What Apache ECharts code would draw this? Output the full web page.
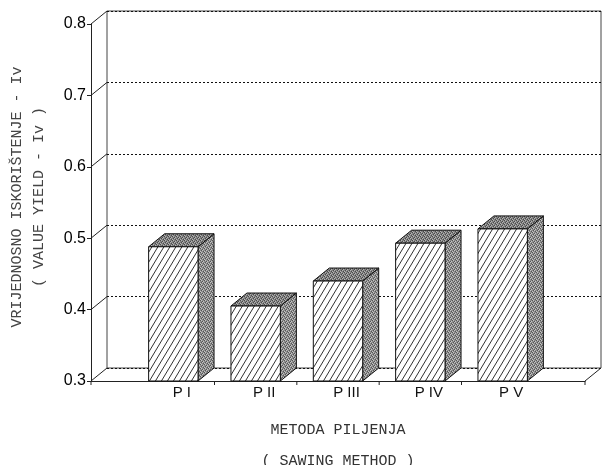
<!DOCTYPE html>
<html><head><meta charset="utf-8">
<script src="https://cdn.jsdelivr.net/npm/echarts@6/dist/echarts.min.js"></script>
<style>html,body{margin:0;padding:0;background:#fff}#c{width:603px;height:465px}</style>
</head><body><div id="c"></div>
<script>
// ---- data ----
const categories = ['P I', 'P II', 'P III', 'P IV', 'P V'];
const values = [0.488, 0.405, 0.440, 0.493, 0.513];
const yTickLabels = ['0.3', '0.4', '0.5', '0.6', '0.7', '0.8'];
const yTitle = ['VRIJEDNOSNO ISKORIŠTENJE - Iv', '( VALUE YIELD - Iv )'];
const xTitle = ['METODA PILJENJA', '( SAWING METHOD )'];

// ---- styling constants ----
const Y_MIN = 0.3, Y_MAX = 0.8, Y_STEP = 0.1;
const DX = 16, DY = -13;          // 3D depth offset
const LINE = '#222';

function makeHatch() {
  const c = document.createElement('canvas');
  c.width = 6; c.height = 10;
  const g = c.getContext('2d');
  g.fillStyle = '#fff'; g.fillRect(0, 0, 6, 10);
  g.strokeStyle = '#333'; g.lineWidth = 1;
  g.beginPath();
  g.moveTo(-6, 20); g.lineTo(12, -10);
  g.moveTo(-12, 20); g.lineTo(6, -10);
  g.moveTo(0, 20); g.lineTo(18, -10);
  g.stroke();
  return c;
}
function makeStipple(base, dark, light) {
  const c = document.createElement('canvas');
  c.width = 4; c.height = 4;
  const g = c.getContext('2d');
  g.fillStyle = base; g.fillRect(0, 0, 4, 4);
  g.fillStyle = dark;
  [[0,0],[2,1],[1,2],[3,3]].forEach(p => g.fillRect(p[0], p[1], 1, 1));
  g.fillStyle = light;
  [[1,0],[3,1],[0,3],[2,2]].forEach(p => g.fillRect(p[0], p[1], 1, 1));
  return c;
}
const hatch = { image: makeHatch(), repeat: 'repeat' };
const sideFill = { image: makeStipple('#8c8c8c', '#555', '#c4c4c4'), repeat: 'repeat' };
const topFill = { image: makeStipple('#808080', '#4a4a4a', '#b4b4b4'), repeat: 'repeat' };

const axisCats = [''].concat(categories, ['']);
const barData = values.map((v, i) => [i + 1, v]);

const chart = echarts.init(document.getElementById('c'), null, { renderer: 'canvas' });

const option = {
  animation: false,
  backgroundColor: '#fff',
  grid: [
    { left: 91, right: 18, top: 24, bottom: 84, show: false },
    { left: 91 + DX, right: 18 - DX, top: 24 + DY, bottom: 84 - DY, show: true,
      borderColor: '#444', borderWidth: 1, backgroundColor: 'transparent' }
  ],
  xAxis: [
    { type: 'category', gridIndex: 0, data: axisCats, boundaryGap: false,
      axisLine: { show: true, lineStyle: { color: LINE, width: 1 } },
      axisTick: { show: false },
      axisLabel: { interval: 0, color: '#111', fontFamily: 'Liberation Sans', fontSize: 15,
                   margin: 4, padding: [0, 0, 0, 17] },
      splitLine: { show: false } },
    { type: 'value', gridIndex: 1, min: 0, max: 1, show: false }
  ],
  yAxis: [
    { type: 'value', gridIndex: 0, min: Y_MIN, max: Y_MAX, interval: Y_STEP,
      axisLine: { show: true, lineStyle: { color: LINE, width: 1 } },
      axisTick: { show: true, length: 4, lineStyle: { color: LINE } },
      axisLabel: { color: '#000', fontFamily: 'Liberation Sans', fontSize: 16, margin: 5,
                   formatter: (v) => { const i = Math.round((v - Y_MIN) / Y_STEP); return yTickLabels[i] || ''; } },
      splitLine: { show: false } },
    { type: 'value', gridIndex: 1, min: Y_MIN, max: Y_MAX, interval: Y_STEP,
      axisLine: { show: false }, axisTick: { show: false }, axisLabel: { show: false },
      splitLine: { show: true, lineStyle: { color: '#111', type: [2, 2], width: 1 } } }
  ],
  series: [{
    type: 'custom',
    xAxisIndex: 0, yAxisIndex: 0,
    data: barData,
    z: 5,
    renderItem(params, api) {
      const xv = api.value(0), v = api.value(1);
      const top = api.coord([xv, v]);
      const base = api.coord([xv, Y_MIN]);
      const w = api.size([1, 0])[0] * 0.6;
      const x0 = top[0] - w / 2, x1 = top[0] + w / 2;
      const yt = top[1], yb = base[1];
      return { type: 'group', children: [
        { type: 'polygon', shape: { points: [[x1, yb], [x1 + DX, yb + DY], [x1 + DX, yt + DY], [x1, yt]] },
          style: { fill: sideFill, stroke: '#111', lineWidth: 1 } },
        { type: 'polygon', shape: { points: [[x0, yt], [x0 + DX, yt + DY], [x1 + DX, yt + DY], [x1, yt]] },
          style: { fill: topFill, stroke: '#111', lineWidth: 1 } },
        { type: 'rect', shape: { x: x0, y: yt, width: w, height: yb - yt },
          style: { fill: hatch, stroke: '#111', lineWidth: 1 } }
      ] };
    }
  }]
};
chart.setOption(option);

// frame decorations derived from axis scales
const fp = (x, y) => chart.convertToPixel({ xAxisIndex: 0, yAxisIndex: 0 }, [x, y]);
const gfx = [];
const line = (a, b, color, width) => gfx.push({ type: 'line', z: 10, silent: true,
  shape: { x1: a[0], y1: a[1], x2: b[0], y2: b[1] }, style: { stroke: color || LINE, lineWidth: width || 1 } });
for (let t = Y_MIN; t <= Y_MAX + 1e-9; t += Y_STEP) {
  const p = fp(0, t);
  gfx.push({ type: 'line', z: 1, silent: true,
    shape: { x1: p[0], y1: p[1], x2: p[0] + DX, y2: p[1] + DY }, style: { stroke: LINE, lineWidth: 1 } });
}
const last = axisCats.length - 1;
const pr = fp(last, Y_MIN);
line(pr, [pr[0] + DX, pr[1] + DY]);
// x ticks: between categories and at the ends
const tickXs = [0];
for (let i = 1; i < categories.length; i++) tickXs.push(i + 0.5);
tickXs.push(last);
tickXs.forEach(xv => {
  const p0 = fp(0, Y_MIN), p1 = fp(1, Y_MIN);
  const px = p0[0] + (p1[0] - p0[0]) * xv;
  line([px, p0[1]], [px, p0[1] + 4]);
});
// titles
gfx.push({ type: 'text', x: 17, y: 197, rotation: Math.PI / 2,
  style: { text: yTitle[0], font: '15px "Liberation Mono"', fill: '#444', align: 'center', verticalAlign: 'middle' } });
gfx.push({ type: 'text', x: 39, y: 197, rotation: Math.PI / 2,
  style: { text: yTitle[1], font: '15px "Liberation Mono"', fill: '#444', align: 'center', verticalAlign: 'middle' } });
gfx.push({ type: 'text', x: 338, y: 430,
  style: { text: xTitle[0], font: '15px "Liberation Mono"', fill: '#333', align: 'center', verticalAlign: 'middle' } });
gfx.push({ type: 'text', x: 338, y: 461,
  style: { text: xTitle[1], font: '15px "Liberation Mono"', fill: '#333', align: 'center', verticalAlign: 'middle' } });
chart.setOption({ graphic: { elements: gfx } });
</script>
</body></html>
